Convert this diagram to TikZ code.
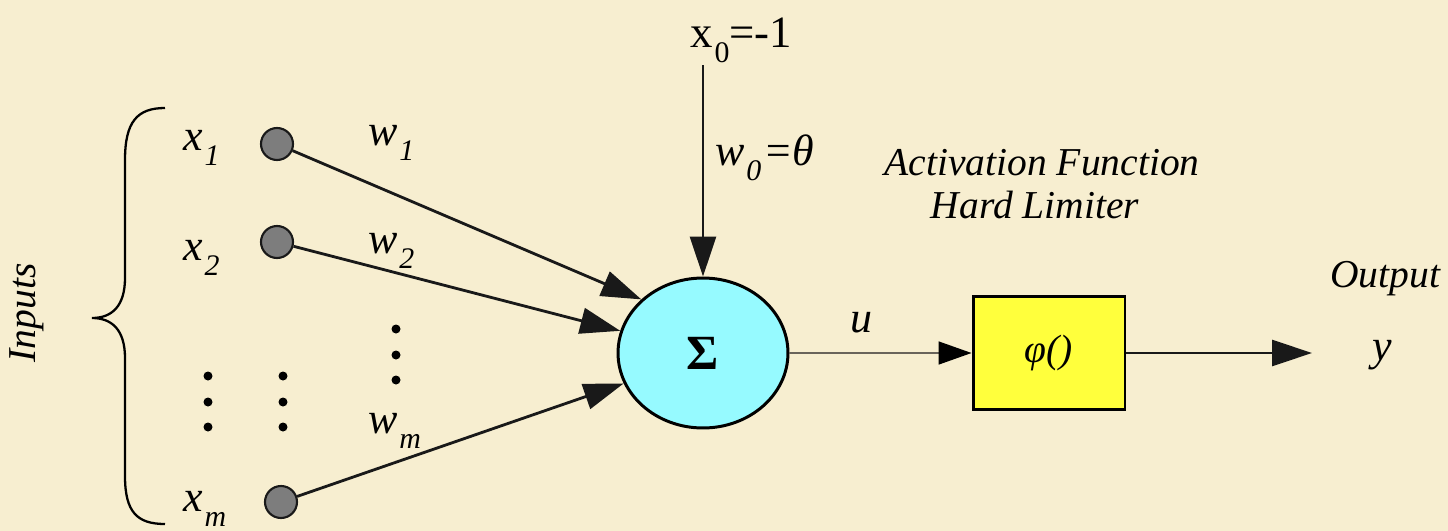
\documentclass[tikz,border=0pt]{standalone}
\usepackage{fontspec}
\setmainfont{Liberation Serif}
\usepackage{xcolor}
\usepackage{tikz}
\usetikzlibrary{arrows.meta, positioning, shapes.geometric}
\definecolor{parchment}{RGB}{247,238,208}
\definecolor{sumcyan}{RGB}{150,250,255}
\definecolor{boxyellow}{RGB}{255,255,60}
\definecolor{inputgray}{RGB}{125,125,125}
\definecolor{darkline}{RGB}{25,25,25}
\definecolor{ulinegray}{RGB}{105,100,90}

\newcommand{\lowsub}[1]{\raisebox{-9pt}{\fontsize{17}{17}\selectfont\kern1pt#1}}

\begin{document}
\begin{tikzpicture}[
          x=0.02cm, y=-0.02cm,
          inputdot/.style={
            circle, draw=darkline, fill=inputgray, line width=1.2pt,
            minimum size=0.64cm, inner sep=0pt
          },
          sumnode/.style={
            ellipse, draw=black, fill=sumcyan, line width=1.7pt,
            minimum width=3.4cm, minimum height=3cm,
            font=\fontsize{28}{28}\selectfont\bfseries
          },
          limiter/.style={
            rectangle, draw=black, fill=boxyellow, line width=1.7pt,
            minimum width=3.04cm, minimum height=2.26cm,
            font=\fontsize{22.5}{22.5}\selectfont\itshape
          },
          varlabel/.style={font=\fontsize{25}{25}\selectfont\itshape, inner sep=0pt, anchor=base west},
          caption/.style={font=\fontsize{22.5}{27}\selectfont\itshape, inner sep=0pt, anchor=base},
          arrow/.style={
            -{Triangle[length=0.8cm, width=0.52cm]}, line width=1.6pt, color=darkline
          },
          thinarrow/.style={
            -{Triangle[length=0.66cm, width=0.46cm, color=black]}, line width=0.9pt, color=ulinegray
          }
        ]
          \path[use as bounding box, fill=parchment] (0,0) rectangle (1448,531);

          % inputs
          \node[inputdot] (in1) at (277,144) {};
          \node[inputdot] (in2) at (277,242) {};
          \node[inputdot] (inm) at (281,502) {};
          \node[varlabel] (x1) at (183,150) {x\lowsub{1}};
          \node[varlabel] (x2) at (183,260) {x\lowsub{2}};
          \node[varlabel] (xm) at (183,511) {x\lowsub{m}};
          \node[varlabel] (w1) at (368,145) {w\lowsub{1}};
          \node[varlabel] (w2) at (368,253) {w\lowsub{2}};
          \node[varlabel] (wm) at (368,433) {w\lowsub{m}};
          \foreach \px in {208,283}
            \foreach \py in {376,402,427}
              \fill (\px,\py) circle (0.09cm);
          \foreach \py in {329,355,380}
            \fill (396,\py) circle (0.09cm);

          \draw[line width=1.3pt] (165,108) .. controls (137,108) and (125,122) .. (125,160)
            -- (125,278) .. controls (125,306) and (112,318) .. (92,318)
            .. controls (112,318) and (125,330) .. (125,358)
            -- (125,476) .. controls (125,512) and (137,524) .. (165,524);
          \node[caption, anchor=center, rotate=90] (inlabel) at (27,313) {Inputs};

          % summing junction and bias
          \node[sumnode] (sum) at (703,353) {Σ};
          \node[font=\fontsize{25.5}{25.5}\selectfont, inner sep=0pt, anchor=base west] (xzero) at (690,47) {x\lowsub{0}=-1};
          \coordinate (bias) at (703,65);
          \node[varlabel] (w0) at (715,165) {w\lowsub{0}\kern1pt=θ};

          \draw[arrow] (in1) -- (sum.139);
          \draw[arrow] (in2) -- (sum.165);
          \draw[arrow] (inm) -- (sum.201);
          \draw[arrow] (bias) -- (sum);

          % activation and output
          \node[limiter] (phi) at (1049,353) {φ()};
          \node[caption] (actname) at (1042,175) {Activation Function};
          \node[caption] (limname) at (1035,218) {Hard Limiter};
          \node[varlabel] (ulabel) at (850,332) {u};
          \draw[thinarrow] (sum) -- (phi);

          \coordinate (yout) at (1312,353);
          \draw[arrow] (phi) -- (yout);
          \node[caption, anchor=base west] (outname) at (1330,287) {Output};
          \node[varlabel] (ylabel) at (1372,360) {y};
        \end{tikzpicture}
\end{document}
